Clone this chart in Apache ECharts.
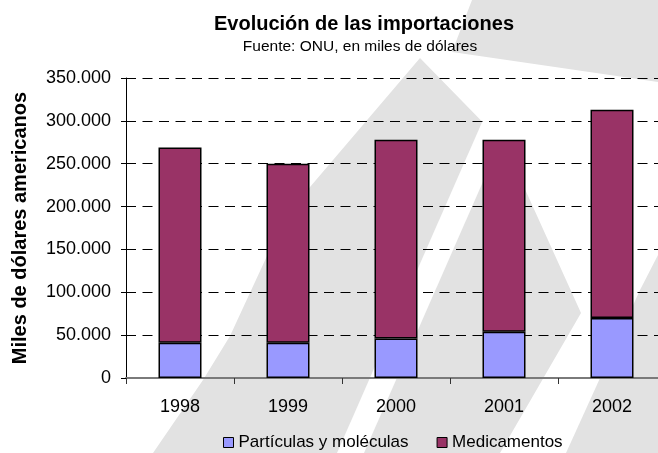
<!DOCTYPE html>
<html>
<head>
<meta charset="utf-8">
<script src="https://cdn.jsdelivr.net/npm/echarts@6/dist/echarts.min.js"></script>
<style>
  html, body { margin: 0; padding: 0; background: #fff; }
  #chart { width: 658px; height: 453px; }
</style>
</head>
<body>
<div id="chart"></div>
<script>
const years = ['1998', '1999', '2000', '2001', '2002']
const particulas = [41000, 41000, 46000, 54000, 70000]
const medicamentos = [228000, 209000, 232000, 224000, 243000]
const seriesNames = ['Partículas y moléculas', 'Medicamentos']

// miles con punto: 350.000
function fmt(v) {
  return String(v).replace(/\B(?=(\d{3})+(?!\d))/g, '.')
}

// marca de agua gris del fondo
const wm = '#e2e2e2'
const shapes = [
  { type: 'polygon', z: -10, silent: true, shape: { points: [[472, 0], [658, 0], [658, 82], [452, 52]] }, style: { fill: wm } },
  { type: 'polygon', z: -10, silent: true, shape: { points: [[420, 58], [505, 145], [581, 313], [500, 453], [153, 453], [203, 380], [230, 336], [267, 256], [310, 187]] }, style: { fill: wm } },
  { type: 'polygon', z: -9, silent: true, shape: { points: [[337, 453], [364, 453], [510, 120], [483, 120]] }, style: { fill: '#fff' } },
  { type: 'polygon', z: -10, silent: true, shape: { points: [[658, 255], [658, 453], [566, 453], [640, 290]] }, style: { fill: wm } }
]

const chart = echarts.init(document.getElementById('chart'))

const option = {
  animation: false,
  textStyle: { fontFamily: 'Liberation Sans, Arial, sans-serif', color: '#000' },
  graphic: { elements: shapes },
  title: [
    {
      text: 'Evolución de las importaciones',
      left: 364, top: 14, textAlign: 'center', padding: 0,
      textStyle: { fontSize: 20, fontWeight: 'bold', color: '#000', fontFamily: 'Liberation Sans, Arial, sans-serif' }
    },
    {
      text: 'Fuente: ONU, en miles de dólares',
      left: 360, top: 39, textAlign: 'center', padding: 0,
      textStyle: { fontSize: 15.5, fontWeight: 'normal', color: '#000', fontFamily: 'Liberation Sans, Arial, sans-serif' }
    }
  ],
  legend: {
    left: 223, top: 434, padding: 0,
    itemWidth: 10, itemHeight: 10, itemGap: 28,
    icon: 'rect',
    itemStyle: { borderColor: '#000', borderWidth: 1 },
    textStyle: { fontSize: 17, color: '#000' },
    data: seriesNames
  },
  // la imagen original está recortada a la derecha: el área de trazado sigue más allá del borde
  grid: { left: 126, width: 540, top: 78, bottom: 75, outerBoundsMode: 'none' },
  xAxis: {
    type: 'category', data: years,
    axisLine: { lineStyle: { color: '#7a7a7a', width: 2 } },
    axisTick: { show: true, length: 6, lineStyle: { color: '#333' } },
    axisLabel: { fontSize: 18, color: '#000', margin: 20 }
  },
  yAxis: {
    type: 'value', min: 0, max: 350000, interval: 50000,
    name: 'Miles de dólares americanos',
    nameLocation: 'middle', nameGap: 96,
    nameTextStyle: { fontSize: 20, fontWeight: 'bold', color: '#000' },
    axisLine: { show: true, lineStyle: { color: '#000', width: 1 } },
    axisTick: { show: true, length: 5, lineStyle: { color: '#000' } },
    axisLabel: { fontSize: 18, color: '#000', margin: 15, formatter: fmt },
    splitLine: { show: true, lineStyle: { color: '#000', width: 1, type: [10, 6.5] } }
  },
  series: [
    {
      name: seriesNames[0], type: 'bar', stack: 'total', barWidth: 43,
      data: particulas,
      itemStyle: { color: '#9999FF', borderColor: '#000', borderWidth: 1.5 }
    },
    {
      name: seriesNames[1], type: 'bar', stack: 'total', barWidth: 43,
      data: medicamentos,
      itemStyle: { color: '#993366', borderColor: '#000', borderWidth: 1.5 }
    }
  ]
}

chart.setOption(option)
</script>
</body>
</html>
